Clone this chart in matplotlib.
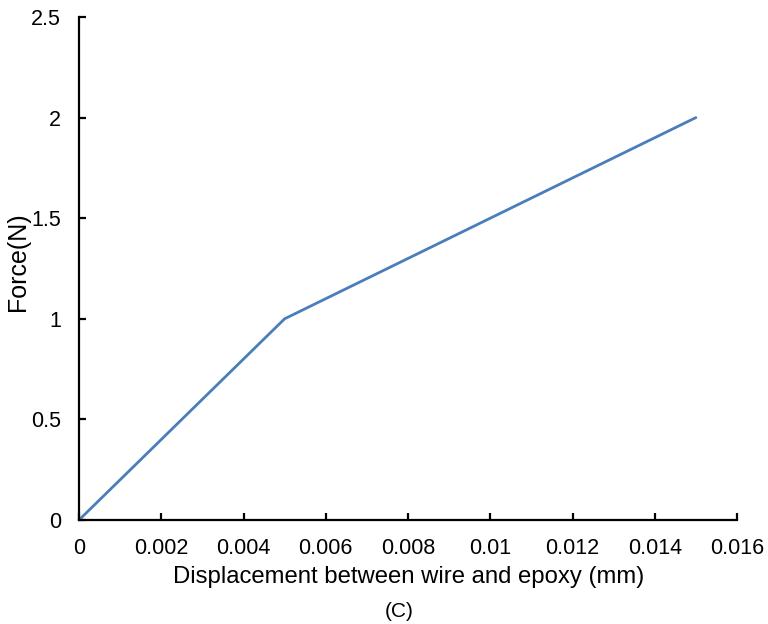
import matplotlib
matplotlib.use("Agg")
import matplotlib.pyplot as plt

# Force vs. displacement, bilinear response
displacement_mm = [0.0, 0.005, 0.015]
force_n = [0.0, 1.0, 2.0]

x_ticks = [0, 0.002, 0.004, 0.006, 0.008, 0.01, 0.012, 0.014, 0.016]
x_tick_labels = ["0", "0.002", "0.004", "0.006", "0.008", "0.01", "0.012", "0.014", "0.016"]
y_ticks = [0, 0.5, 1, 1.5, 2, 2.5]
y_tick_labels = ["0", "0.5", "1", "1.5", "2", "2.5"]

plt.rcParams["font.family"] = ["Liberation Sans", "DejaVu Sans"]

W, H = 768, 624
fig = plt.figure(figsize=(W / 100, H / 100), dpi=100)
ax = fig.add_axes([79 / W, 1 - 520 / H, (737 - 79) / W, (520 - 17) / H])

ax.plot(displacement_mm, force_n, color="#4A7EBB", linewidth=2.0, solid_capstyle="round")

ax.set_xlim(0, 0.016)
ax.set_ylim(0, 2.5)
ax.set_xticks(x_ticks)
ax.set_xticklabels(x_tick_labels)
ax.set_yticks(y_ticks)
ax.set_yticklabels(y_tick_labels)

for side in ("top", "right"):
    ax.spines[side].set_visible(False)
for side in ("left", "bottom"):
    ax.spines[side].set_linewidth(1.6)
    ax.spines[side].set_color("black")

ax.tick_params(axis="both", direction="in", length=5, width=1.6, labelsize=15.5,
               colors="black")
ax.tick_params(axis="x", pad=13)
ax.tick_params(axis="y", pad=13)

# Axis titles and panel tag
fig.text(409 / W, 1 - 583 / H, "Displacement between wire and epoxy (mm)",
         ha="center", va="baseline", fontsize=17.2)
fig.text(30 / W, 1 - 262 / H, "Force(N)", rotation=90,
         ha="right", va="center", fontsize=18)
fig.text(399 / W, 1 - 617 / H, "(C)", ha="center", va="baseline", fontsize=15)

fig.savefig("out.png", dpi=100)
